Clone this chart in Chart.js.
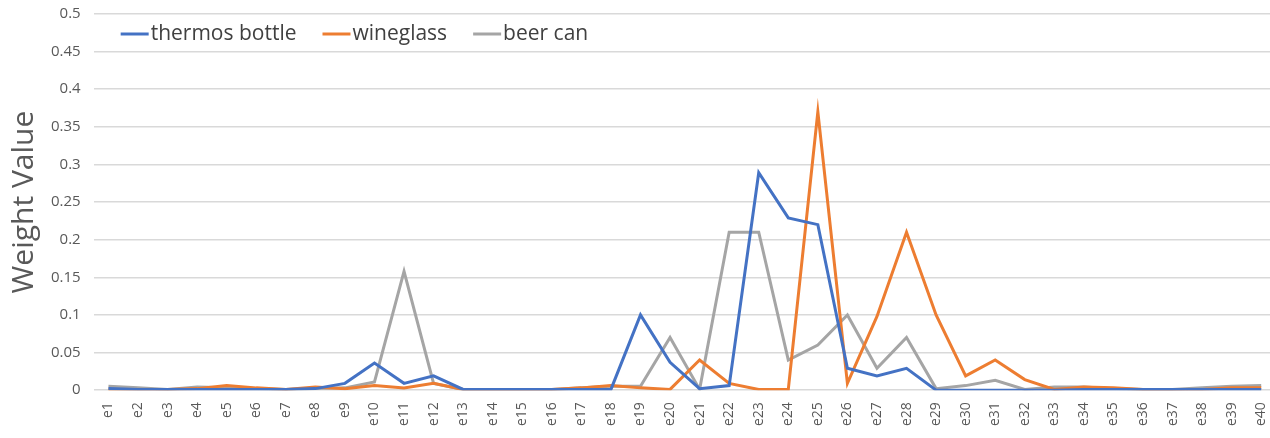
<!DOCTYPE html>
<html lang="en">
<head>
    <meta charset="UTF-8">
    <title>Weight Value</title>
    <script src="https://cdn.jsdelivr.net/npm/chart.js"></script>
    <style>
        html, body { margin: 0; padding: 0; background: #ffffff; overflow: hidden; }
        /* the original plot runs a few pixels past the right edge of the picture */
        #wrap { width: 1276px; height: 438px; }
    </style>
</head>
<body>
    <div id="wrap"><canvas id="weights"></canvas></div>

    <script>
        const labels = Array.from({ length: 40 }, (_, i) => "e" + (i + 1));

        const thermosBottle = [0.002, 0.001, 0.001, 0.001, 0.001, 0.001, 0.001, 0.002, 0.009, 0.036,
                               0.009, 0.019, 0.001, 0.001, 0.001, 0.001, 0.001, 0.001, 0.1, 0.037,
                               0.002, 0.006, 0.289, 0.229, 0.22, 0.029, 0.019, 0.029, 0, 0,
                               0, 0, 0, 0.001, 0.001, 0.001, 0.001, 0.001, 0.001, 0.001];
        const wineglass = [0.001, 0.001, 0.001, 0.002, 0.006, 0.003, 0.001, 0.004, 0.002, 0.006,
                           0.003, 0.009, 0.001, 0.001, 0.001, 0.001, 0.003, 0.006, 0.003, 0.001,
                           0.04, 0.009, 0.001, 0.001, 0.37, 0.009, 0.098, 0.21, 0.1, 0.019,
                           0.04, 0.014, 0.001, 0.004, 0.003, 0.001, 0.001, 0.001, 0.003, 0.003];
        const beerCan = [0.005, 0.003, 0.001, 0.004, 0.003, 0.002, 0.001, 0.002, 0.003, 0.011,
                         0.158, 0.009, 0.001, 0.001, 0.001, 0.001, 0.003, 0.005, 0.005, 0.07,
                         0.001, 0.21, 0.21, 0.04, 0.06, 0.1, 0.029, 0.07, 0.002, 0.006,
                         0.013, 0.001, 0.004, 0.004, 0.002, 0.001, 0.001, 0.003, 0.005, 0.006];

        const seriesNames = ["thermos bottle", "wineglass", "beer can"];
        const seriesColors = ["#4472C4", "#ED7D31", "#A5A5A5"];
        const seriesData = [thermosBottle, wineglass, beerCan];

        const FONT = "'Open Sans', sans-serif";

        // legend drawn inside the plot, one row, like the spreadsheet version
        const insideLegend = {
            id: "insideLegend",
            afterDraw(chart) {
                const c = chart.ctx;
                const area = chart.chartArea;
                let x = area.left + 27;
                const y = 34;
                c.save();
                c.font = "21px " + FONT;
                c.textBaseline = "middle";
                chart.data.datasets.forEach(ds => {
                    c.strokeStyle = ds.borderColor;
                    c.lineWidth = 3;
                    c.beginPath();
                    c.moveTo(x, y);
                    c.lineTo(x + 28, y);
                    c.stroke();
                    x += 30;
                    c.fillStyle = "#404040";
                    c.fillText(ds.label, x, y);
                    x += c.measureText(ds.label).width + 26;
                });
                c.restore();
            }
        };

        const ctx = document.getElementById("weights").getContext("2d");
        new Chart(ctx, {
            type: "line",
            data: {
                labels: labels,
                datasets: seriesData.map((d, i) => ({
                    label: seriesNames[i],
                    data: d,
                    borderColor: seriesColors[i],
                    backgroundColor: seriesColors[i],
                    borderWidth: 3,
                    pointRadius: 0,
                    tension: 0,
                    borderJoinStyle: "miter"
                }))
            },
            plugins: [insideLegend],
            options: {
                responsive: true,
                maintainAspectRatio: false,
                animation: false,
                layout: { padding: { left: 2, right: 0, top: 4, bottom: 0 } },
                plugins: {
                    tooltip: { enabled: false },
                    legend: { display: false }
                },
                scales: {
                    x: {
                        offset: true,
                        grid: { display: false, drawTicks: false },
                        border: { display: false },
                        afterFit: s => { s.paddingLeft = 0; s.paddingRight = 0; },
                        ticks: {
                            autoSkip: false,
                            minRotation: 90,
                            maxRotation: 90,
                            padding: 12,
                            color: "#595959",
                            font: { family: FONT, size: 14 }
                        }
                    },
                    y: {
                        min: 0,
                        max: 0.5,
                        border: { display: false },
                        grid: {
                            color: "#D9D9D9",
                            lineWidth: 1.5,
                            drawTicks: true,
                            tickLength: 8,
                            tickColor: "rgba(0,0,0,0)"
                        },
                        ticks: {
                            stepSize: 0.05,
                            padding: 5,
                            color: "#595959",
                            font: { family: FONT, size: 15 },
                            callback: v => +v.toFixed(2)
                        },
                        title: {
                            display: true,
                            text: "Weight Value",
                            color: "#595959",
                            font: { family: FONT, size: 30, lineHeight: 1 },
                            padding: { top: 7, bottom: 7 }
                        }
                    }
                }
            }
        });
    </script>
</body>
</html>
